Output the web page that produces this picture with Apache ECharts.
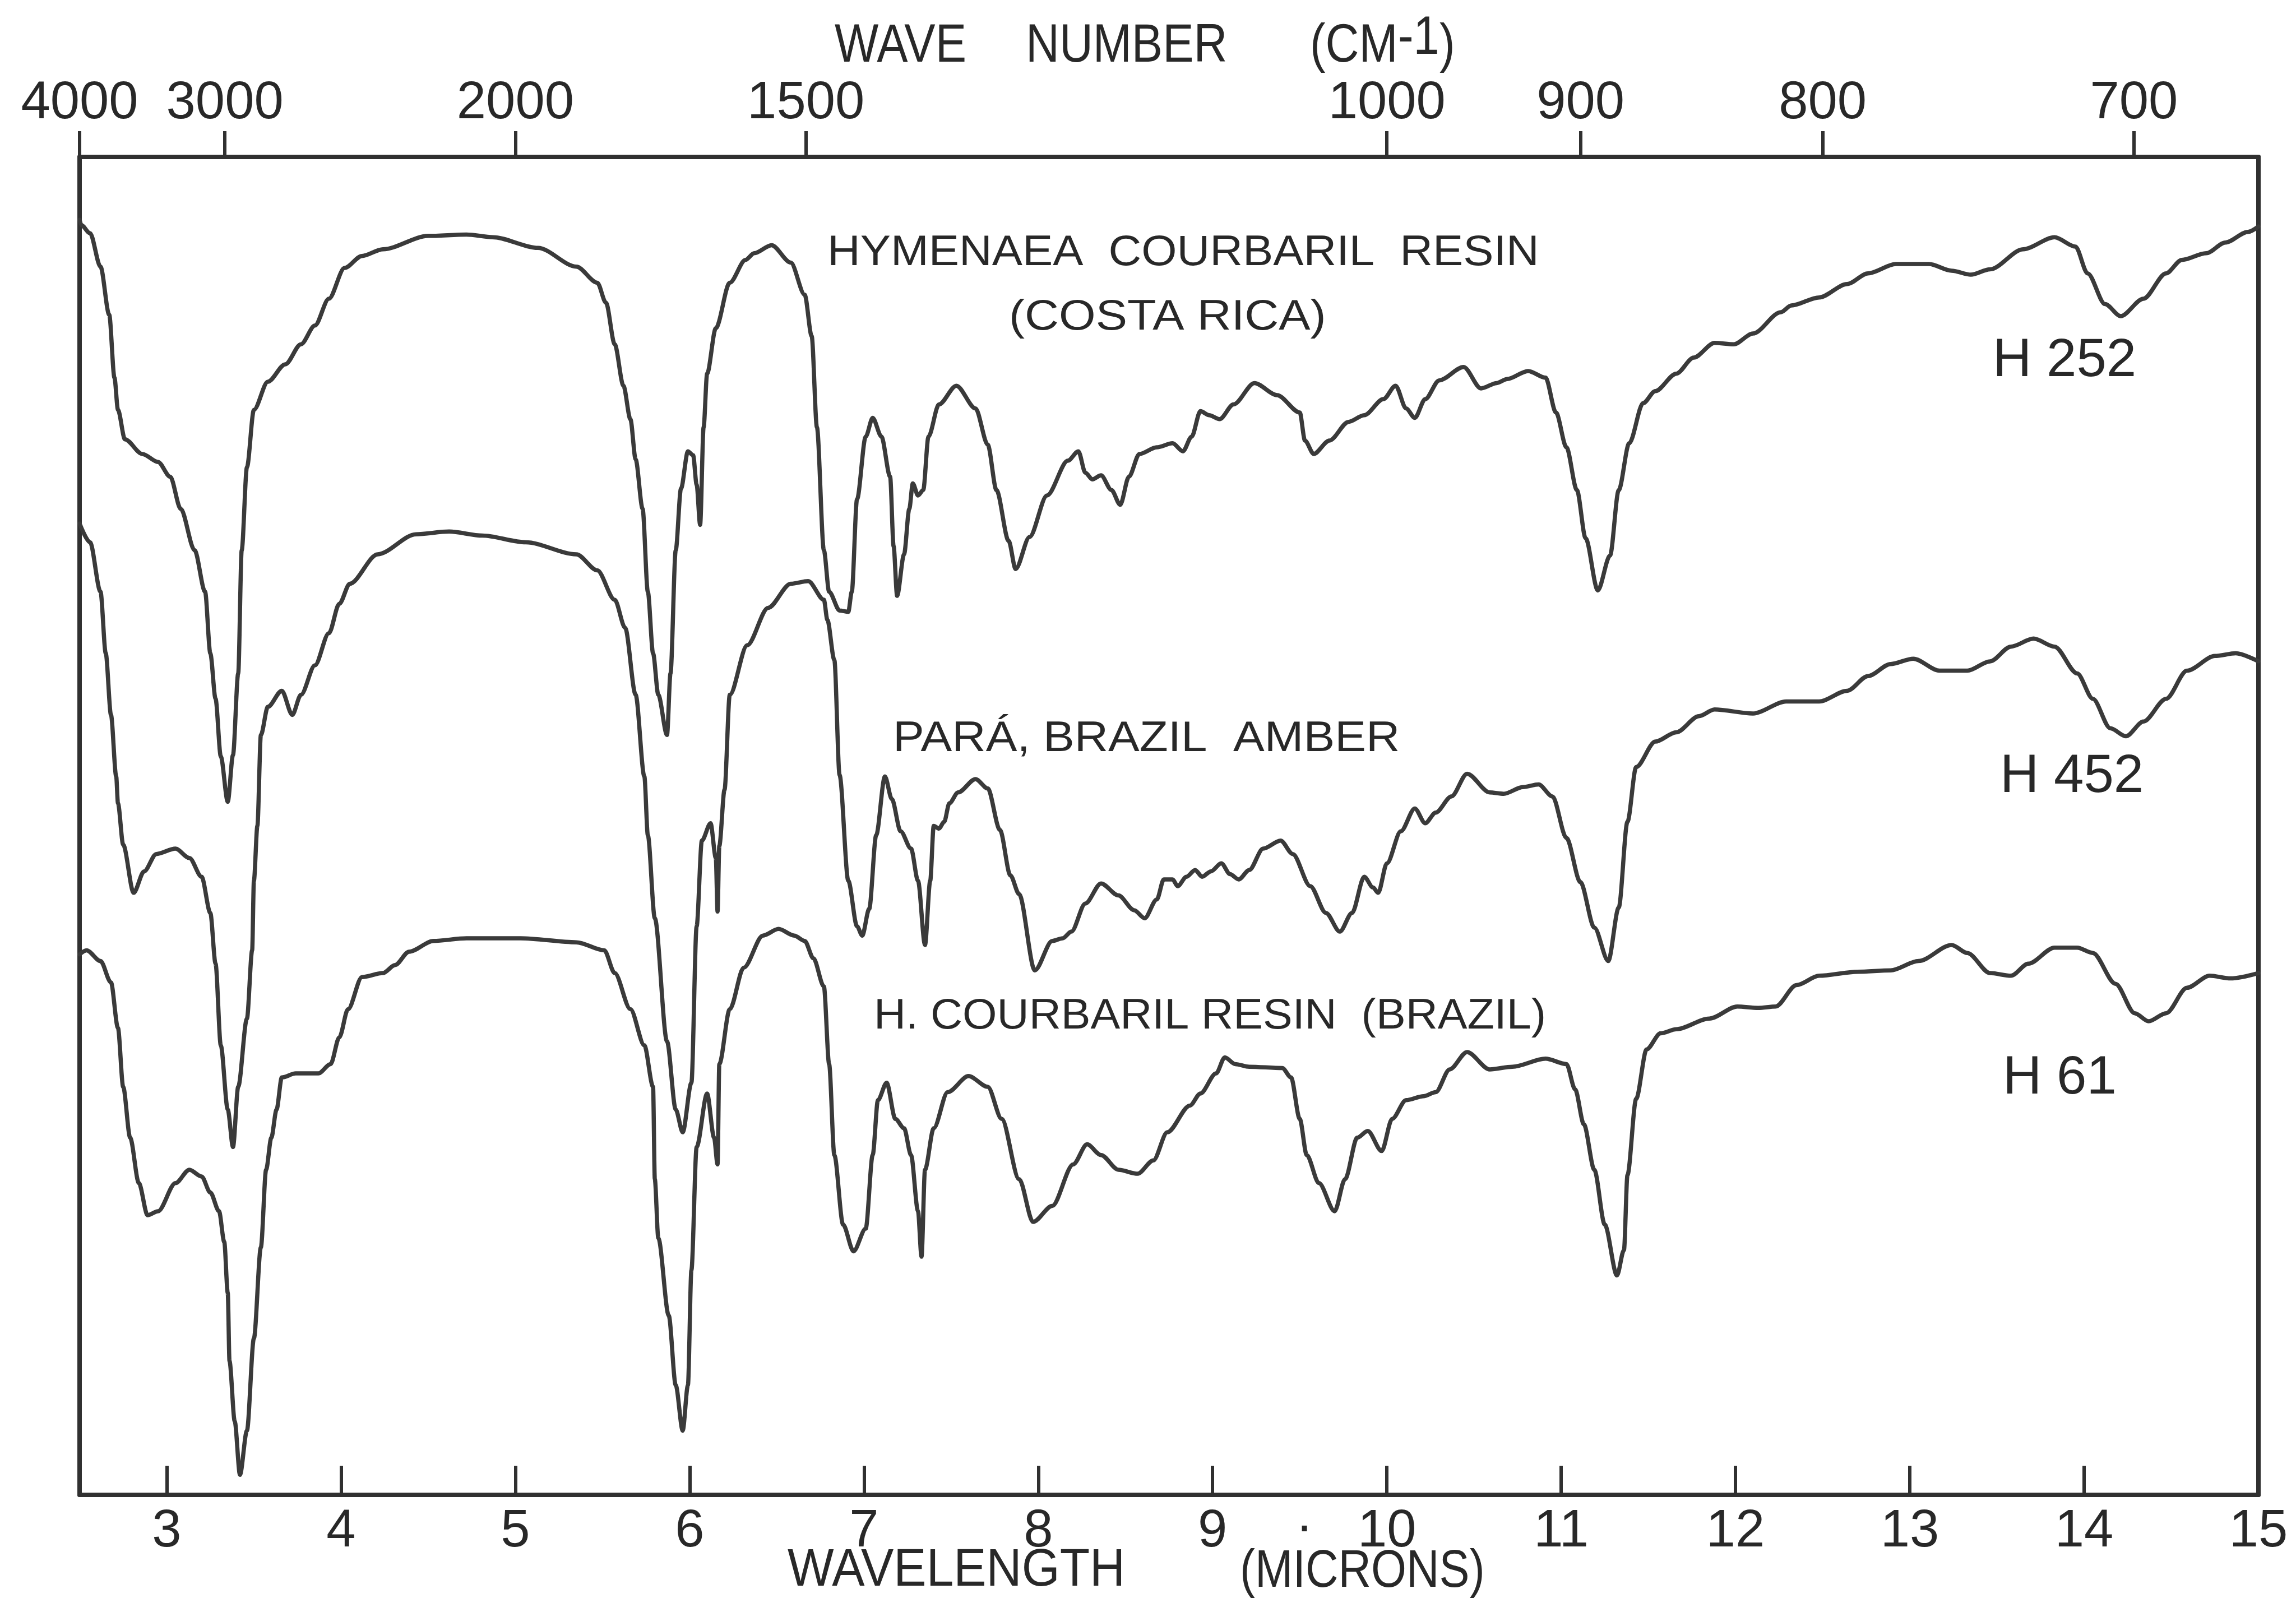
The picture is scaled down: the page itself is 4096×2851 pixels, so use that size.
<!DOCTYPE html>
<html>
<head>
<meta charset="utf-8">
<style>
  html, body { margin: 0; padding: 0; background: #ffffff; }
  #chart { width: 4096px; height: 2851px; }
</style>
<script src="https://cdn.jsdelivr.net/npm/echarts@6/dist/echarts.min.js"></script>
</head>
<body>
<div id="chart"></div>
<script>
// Wavelength tick marks (microns) along the bottom edge
const wavelengthTicks = [3, 4, 5, 6, 7, 8, 9, 10, 11, 12, 13, 14, 15];
// Wave number tick marks (cm-1) along the top edge
const waveNumberTicks = [4000, 3000, 2000, 1500, 1000, 900, 800, 700];

// Spectra as [wavelength (microns), relative transmission (% of frame height)]
const h252 = [
  [2.50,95.3],[2.51,94.9],[2.56,94.3],[2.62,91.8],[2.67,88.2],[2.70,83.5],[2.72,81.1],[2.76,78.9],
  [2.86,77.8],[2.95,77.2],[3.02,76.1],[3.08,73.7],[3.16,70.6],[3.22,67.5],[3.25,62.9],[3.28,59.5],
  [3.31,55.2],[3.35,51.8],[3.38,55.3],[3.41,61.4],[3.43,70.6],[3.46,76.8],[3.50,81.1],[3.58,83.2],
  [3.68,84.5],[3.77,86.0],[3.85,87.4],[3.93,89.4],[4.02,91.7],[4.12,92.6],[4.24,93.1],[4.50,94.1],
  [4.72,94.2],[4.87,94.0],[5.13,93.2],[5.35,91.8],[5.47,90.6],[5.52,89.1],[5.57,86.0],[5.62,82.9],
  [5.66,80.4],[5.69,77.4],[5.73,73.7],[5.76,67.5],[5.79,62.9],[5.82,59.8],[5.87,56.8],[5.89,61.4],
  [5.92,70.6],[5.95,75.2],[5.99,78.0],[6.02,77.7],[6.04,75.5],[6.06,72.5],[6.08,79.8],[6.10,83.8],
  [6.15,87.2],[6.23,90.6],[6.32,92.3],[6.37,92.8],[6.47,93.4],[6.58,92.1],[6.66,89.7],[6.70,86.6],
  [6.73,79.8],[6.77,70.6],[6.80,67.5],[6.86,66.1],[6.91,66.0],[6.93,67.5],[6.96,74.4],[7.01,79.1],
  [7.05,80.5],[7.10,79.1],[7.15,76.1],[7.17,70.9],[7.19,67.2],[7.23,70.3],[7.26,73.7],[7.28,75.6],
  [7.31,74.7],[7.34,75.1],[7.37,79.1],[7.43,81.5],[7.53,82.9],[7.64,81.2],[7.71,78.5],[7.76,75.1],
  [7.83,71.3],[7.87,69.2],[7.95,71.6],[8.05,74.7],[8.17,77.3],[8.23,78.0],[8.27,76.4],[8.31,75.9],
  [8.36,76.2],[8.42,75.1],[8.47,74.0],[8.52,76.1],[8.58,77.8],[8.68,78.3],[8.77,78.6],[8.83,78.0],
  [8.88,79.1],[8.93,81.0],[8.98,80.7],[9.04,80.4],[9.12,81.5],[9.24,83.1],[9.37,82.2],[9.50,80.9],
  [9.53,78.8],[9.58,77.8],[9.67,78.8],[9.78,80.2],[9.87,80.7],[9.98,81.9],[10.05,82.9],[10.11,81.2],
  [10.16,80.5],[10.22,81.9],[10.30,83.3],[10.44,84.3],[10.54,82.7],[10.63,83.1],[10.69,83.4],[10.81,84.0],
  [10.91,83.5],[10.97,80.9],[11.03,78.3],[11.09,75.1],[11.14,71.5],[11.21,67.6],[11.28,70.2],[11.33,75.1],
  [11.39,78.6],[11.47,81.6],[11.54,82.5],[11.66,83.8],[11.76,85.0],[11.88,86.1],[11.99,86.0],[12.10,86.8],
  [12.26,88.4],[12.32,88.9],[12.48,89.5],[12.64,90.5],[12.76,91.3],[12.92,92.0],[13.11,92.0],[13.24,91.5],
  [13.35,91.2],[13.46,91.6],[13.65,93.1],[13.83,94.0],[13.95,93.3],[14.02,91.3],[14.12,89.0],[14.21,88.1],
  [14.34,89.4],[14.47,91.3],[14.56,92.3],[14.70,92.8],[14.81,93.6],[14.94,94.4],[15.00,94.8]
];

const h452 = [
  [2.50,72.6],[2.56,71.2],[2.62,67.5],[2.65,62.9],[2.68,58.3],[2.71,53.7],[2.72,51.7],[2.75,48.6],
  [2.81,45.0],[2.87,46.6],[2.94,47.9],[3.05,48.3],[3.13,47.6],[3.20,46.2],[3.25,43.5],[3.28,39.7],
  [3.31,33.6],[3.35,28.8],[3.38,26.0],[3.41,30.5],[3.46,35.6],[3.49,40.7],[3.50,45.9],[3.52,50.0],
  [3.54,56.8],[3.58,58.9],[3.66,60.1],[3.72,58.3],[3.77,59.8],[3.85,62.0],[3.93,64.4],[3.99,66.6],
  [4.05,68.1],[4.21,70.3],[4.43,71.8],[4.62,72.0],[4.81,71.7],[5.06,71.2],[5.35,70.3],[5.47,69.1],
  [5.57,66.9],[5.63,64.8],[5.69,59.8],[5.74,53.7],[5.76,49.3],[5.80,43.1],[5.87,33.9],[5.92,28.8],
  [5.96,27.1],[6.01,30.8],[6.04,42.5],[6.07,48.9],[6.12,50.2],[6.15,47.6],[6.16,43.6],[6.17,48.5],
  [6.20,52.7],[6.23,59.8],[6.33,63.5],[6.45,66.3],[6.58,68.1],[6.68,68.3],[6.77,66.9],[6.79,65.4],
  [6.83,62.4],[6.86,53.8],[6.91,45.9],[6.96,42.5],[6.99,41.8],[7.03,43.8],[7.07,49.3],[7.12,53.7],
  [7.16,52.0],[7.21,49.6],[7.27,48.3],[7.31,45.9],[7.35,41.1],[7.38,45.9],[7.40,50.0],[7.43,49.8],
  [7.46,50.3],[7.49,51.7],[7.54,52.5],[7.64,53.5],[7.71,52.8],[7.78,49.7],[7.84,46.3],[7.89,44.9],
  [7.98,39.2],[8.08,41.4],[8.14,41.6],[8.19,42.1],[8.27,44.2],[8.36,45.7],[8.46,44.8],[8.55,43.7],
  [8.61,43.1],[8.68,44.5],[8.72,46.0],[8.77,46.0],[8.80,45.5],[8.85,46.2],[8.90,46.7],[8.94,46.2],
  [8.99,46.6],[9.05,47.2],[9.10,46.4],[9.15,46.0],[9.21,46.7],[9.29,48.3],[9.39,48.9],[9.46,47.9],
  [9.56,45.5],[9.65,43.5],[9.73,42.1],[9.80,43.5],[9.87,46.2],[9.92,45.4],[9.95,45.0],[10.00,47.2],
  [10.08,49.6],[10.16,51.3],[10.22,50.2],[10.28,51.0],[10.37,52.2],[10.46,53.9],[10.59,52.5],[10.67,52.4],
  [10.78,52.9],[10.87,53.1],[10.95,52.2],[11.03,49.1],[11.11,45.8],[11.19,42.4],[11.27,39.9],[11.33,43.9],
  [11.38,50.3],[11.43,54.4],[11.54,56.3],[11.66,57.0],[11.79,58.2],[11.88,58.7],[12.10,58.4],[12.29,59.3],
  [12.48,59.3],[12.64,60.1],[12.76,61.2],[12.89,62.1],[13.02,62.5],[13.17,61.6],[13.33,61.6],[13.46,62.3],
  [13.58,63.4],[13.71,64.0],[13.83,63.4],[13.96,61.4],[14.05,59.5],[14.15,57.3],[14.24,56.7],[14.34,57.8],
  [14.47,59.5],[14.59,61.6],[14.75,62.7],[14.87,62.9],[15.00,62.3]
];

const h61 = [
  [2.50,40.4],[2.54,40.7],[2.62,39.9],[2.68,38.3],[2.72,34.9],[2.75,30.5],[2.79,26.7],[2.84,23.3],
  [2.89,20.9],[2.95,21.2],[3.05,23.3],[3.13,24.3],[3.20,23.8],[3.25,22.6],[3.30,21.2],[3.33,18.9],
  [3.35,15.1],[3.36,10.0],[3.39,5.5],[3.42,1.5],[3.46,4.8],[3.50,11.7],[3.54,18.5],[3.57,24.3],
  [3.60,26.7],[3.63,28.8],[3.66,31.2],[3.74,31.5],[3.87,31.5],[3.94,32.2],[3.99,34.2],[4.04,36.3],
  [4.12,38.7],[4.24,39.0],[4.31,39.6],[4.39,40.6],[4.53,41.4],[4.72,41.6],[5.03,41.6],[5.35,41.3],
  [5.51,40.7],[5.57,39.0],[5.66,36.3],[5.74,33.6],[5.79,30.5],[5.80,23.6],[5.82,19.2],[5.88,13.4],
  [5.92,8.2],[5.96,4.8],[5.99,8.2],[6.01,16.8],[6.04,26.0],[6.10,30.0],[6.14,26.7],[6.16,24.7],
  [6.17,32.2],[6.23,36.3],[6.31,39.4],[6.42,41.8],[6.51,42.3],[6.60,41.8],[6.66,41.4],[6.71,40.1],
  [6.77,38.0],[6.80,32.2],[6.83,25.4],[6.88,20.2],[6.94,18.2],[7.01,19.9],[7.05,25.4],[7.08,29.5],
  [7.13,30.8],[7.18,28.1],[7.23,27.4],[7.27,25.4],[7.31,21.2],[7.33,17.8],[7.35,24.3],[7.40,27.4],
  [7.48,30.1],[7.60,31.3],[7.71,30.5],[7.79,28.1],[7.89,23.6],[7.97,20.4],[8.08,21.6],[8.20,24.7],
  [8.28,26.2],[8.36,25.4],[8.46,24.3],[8.57,24.0],[8.66,25.0],[8.74,27.1],[8.87,29.1],[8.93,30.0],
  [9.02,31.5],[9.07,32.7],[9.13,32.2],[9.21,32.0],[9.40,31.9],[9.45,31.2],[9.50,28.1],[9.54,25.4],
  [9.61,23.3],[9.70,21.2],[9.76,23.6],[9.83,26.7],[9.89,27.2],[9.97,25.7],[10.03,28.1],[10.11,29.5],
  [10.21,29.8],[10.28,30.1],[10.36,31.8],[10.46,33.1],[10.59,31.8],[10.72,32.0],[10.91,32.6],[11.03,32.2],
  [11.08,30.3],[11.13,27.7],[11.19,24.3],[11.25,20.2],[11.32,16.4],[11.36,18.3],[11.38,23.9],[11.43,29.6],
  [11.49,33.3],[11.57,34.5],[11.66,34.8],[11.85,35.6],[12.01,36.5],[12.13,36.4],[12.23,36.5],[12.35,38.1],
  [12.48,38.8],[12.70,39.1],[12.89,39.2],[13.05,39.9],[13.24,41.1],[13.33,40.5],[13.46,39.0],[13.58,38.8],
  [13.68,39.7],[13.83,40.9],[13.96,40.9],[14.05,40.5],[14.18,38.2],[14.29,36.0],[14.37,35.4],[14.47,36.0],
  [14.59,37.9],[14.72,38.8],[14.84,38.6],[15.00,39.0]
];

const FONT = '"Liberation Sans", Arial, Helvetica, sans-serif';
const INK = '#282828';
const LINE = '#3a3a3a';
const FRAME = '#303030';

// Top-axis tick positions expressed on the wavelength scale
const waveNumberPositions = waveNumberTicks.map(function (w) { return 10000 / w; });

function txt(text, x, y, size, sx, align) {
  return {
    type: 'text',
    x: x, y: y,
    scaleX: sx || 1,
    z: 100,
    silent: true,
    style: {
      text: text,
      fontSize: size,
      fontFamily: FONT,
      fill: INK,
      align: align || 'left',
      verticalAlign: 'middle',
      textAlign: align || 'left',
      textVerticalAlign: 'middle'
    }
  };
}

function spectrum(name, data) {
  return {
    name: name,
    type: 'line',
    data: data,
    xAxisIndex: 0,
    yAxisIndex: 0,
    symbol: 'none',
    showSymbol: false,
    smooth: 0.3,
    smoothMonotone: 'x',
    silent: true,
    clip: true,
    lineStyle: { color: LINE, width: 7.5, join: 'round', cap: 'round' }
  };
}

const chart = echarts.init(document.getElementById('chart'), null, { renderer: 'canvas' });

chart.setOption({
  animation: false,
  backgroundColor: '#ffffff',
  grid: { left: 142, right: 67, top: 280, bottom: 184, containLabel: false },
  xAxis: [
    {
      type: 'value', position: 'bottom', min: 2.5, max: 15,
      axisLine: { show: true, onZero: false, lineStyle: { color: FRAME, width: 8 } },
      axisTick: { show: true, inside: true, length: 52, customValues: wavelengthTicks,
                  lineStyle: { color: FRAME, width: 6 } },
      axisLabel: { show: true, customValues: wavelengthTicks, margin: 19,
                   fontSize: 94, fontFamily: FONT, color: INK },
      splitLine: { show: false }
    },
    {
      type: 'value', position: 'top', min: 2.5, max: 15,
      axisLine: { show: true, onZero: false, lineStyle: { color: FRAME, width: 8 } },
      axisTick: { show: true, inside: false, length: 46, customValues: waveNumberPositions,
                  lineStyle: { color: FRAME, width: 6 } },
      axisLabel: { show: true, customValues: waveNumberPositions, margin: 48,
                   fontSize: 94, fontFamily: FONT, color: INK,
                   formatter: function (v) { return String(Math.round(10000 / v)); } },
      splitLine: { show: false }
    }
  ],
  yAxis: [
    {
      type: 'value', position: 'left', min: 0, max: 100,
      axisLine: { show: true, onZero: false, lineStyle: { color: FRAME, width: 8 } },
      axisTick: { show: false }, axisLabel: { show: false }, splitLine: { show: false }
    },
    {
      type: 'value', position: 'right', min: 0, max: 100,
      axisLine: { show: true, onZero: false, lineStyle: { color: FRAME, width: 8 } },
      axisTick: { show: false }, axisLabel: { show: false }, splitLine: { show: false }
    }
  ],
  series: [
    spectrum('H 252', h252),
    spectrum('H 452', h452),
    spectrum('H 61', h61)
  ],
  graphic: { elements: [
    // axis titles
    txt('WAVE', 1489, 83, 97, 0.855),
    txt('NUMBER', 1830, 83, 97, 0.855),
    txt('(CM', 2337, 83, 97, 0.855),
    txt('-1', 2494, 69, 97, 0.855),
    txt(')', 2568, 83, 97, 0.855),
    txt('WAVELENGTH', 1405, 2803, 95, 0.92),
    txt('(MICRONS)', 2212, 2805, 95, 0.853),
    txt('.', 2327, 2706, 94, 1, 'center'),
    // sample names
    txt('HYMENAEA  COURBARIL  RESIN', 1476, 452, 76, 1.07),
    txt('(COSTA RICA)', 1800, 567, 76, 1.11),
    txt('PARÁ, BRAZIL  AMBER', 1593, 1319, 76, 1.10),
    txt('H. COURBARIL RESIN  (BRAZIL)', 1559, 1814, 76, 1.04),
    // specimen numbers
    txt('H 252', 3555, 645, 96, 1),
    txt('H 452', 3568, 1387, 96, 1),
    txt('H 61', 3573, 1925, 96, 1)
  ] }
});
</script>
</body>
</html>
